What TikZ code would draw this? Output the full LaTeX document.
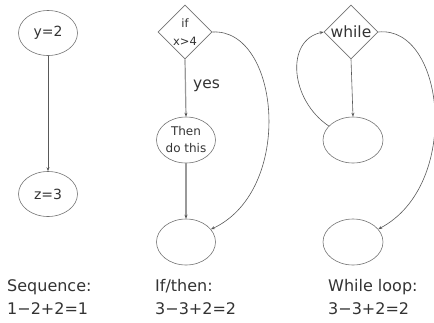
\documentclass[tikz,border=0pt]{standalone}
\usepackage{fontspec}
\setmainfont{DejaVu Sans}
\usetikzlibrary{shapes.geometric,arrows.meta}
\begin{document}
\begin{tikzpicture}[x=1pt,y=-1pt,
  every node/.style={text=black!80},
  oval/.style={ellipse,draw=black!55,line width=0.6pt,minimum width=59pt,minimum height=45pt,inner sep=0pt},
  dia/.style={diamond,draw=black!55,line width=0.6pt,minimum width=54pt,minimum height=54pt,inner sep=0pt,aspect=1},
  thin arrow/.style={draw=black!65,line width=0.6pt,-{Stealth[length=4pt,width=3pt]}},
  thick arrow/.style={draw=black!40,line width=1.2pt,-{Stealth[length=4pt,width=3pt,color=black!70]}},
  caption/.style={anchor=west,inner sep=0pt,font=\fontsize{16}{23.5}\selectfont,align=left}
]
\useasboundingbox (0,0) rectangle (434,322);
% sequence
\node[oval,font=\fontsize{14}{16}\selectfont] (y2) at (48,33) {y=2};
\node[oval,font=\fontsize{14}{16}\selectfont] (z3) at (48,194) {z=3};
\draw[thin arrow] (y2) -- (z3);
% if/then
\node[dia,font=\fontsize{11.5}{18}\selectfont,align=center] (if) at (185,32) {if\\x>4};
\node[oval,minimum width=59pt,minimum height=46pt,font=\fontsize{12}{17}\selectfont,align=center] (then) at (186,140) {Then\\do this};
\node[oval,minimum width=59pt,minimum height=46pt] (ifend) at (186,242) {};
\draw[thick arrow] (if.south) -- (then.north);
\draw[thick arrow] (then.south) -- (ifend.north);
\node[anchor=west,inner sep=0pt,font=\fontsize{15.5}{18}\selectfont] (yes) at (193,86) {yes};
\draw[thin arrow] (if.east) .. controls (280,28) and (295,190) .. (ifend.27);
% while
\node[dia,font=\fontsize{15.5}{18}\selectfont] (wh) at (351,32) {while};
\node[oval,minimum width=60pt,minimum height=46pt] (wmid) at (353,140) {};
\node[oval,minimum width=60pt,minimum height=46pt] (wend) at (353,242) {};
\draw[thin arrow] (wh.south) -- (wmid.north);
\draw[thin arrow] (wmid.150) .. controls (290,100) and (285,40) .. (wh.west);
\draw[thin arrow] (wh.east) .. controls (445,25) and (462,185) .. (wend.27);
% captions
\node[caption] (c1) at (7,297) {Sequence:\\1−2+2=1};
\node[caption] (c2) at (155,297) {If/then:\\3−3+2=2};
\node[caption] (c3) at (328,297) {While loop:\\3−3+2=2};
\end{tikzpicture}
\end{document}
